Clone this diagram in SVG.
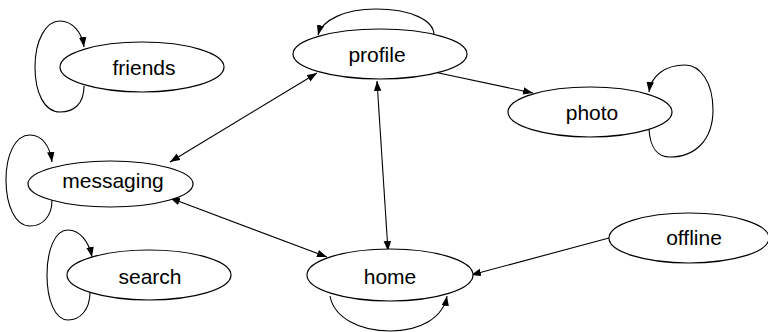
<svg xmlns="http://www.w3.org/2000/svg" width="768" height="332" viewBox="0 0 768 332">
<style>
.node ellipse{fill:#fff;stroke:#000;stroke-width:1.2}
.node text{font-family:"Liberation Sans",Arial,sans-serif;font-size:21px;text-anchor:middle;fill:#000}
.edge{fill:none;stroke:#000;stroke-width:1.1}
</style>
<defs>
<marker id="arr" markerUnits="userSpaceOnUse" markerWidth="10" markerHeight="8" refX="8" refY="3" orient="auto-start-reverse" viewBox="0 0 8 6">
<path d="M0,0 L8,3 L0,6 z" fill="#000"/>
</marker>
</defs>
<g id="connectors">
<path class="edge" d="M84,86 C84,104 74,112 60,112 C44,112 35,92 35,67 C35,40 46,21 60,21 C72,21 82,32 84,47" marker-end="url(#arr)"/>
<path class="edge" d="M434,35 C434,20 410,9 376,9 C345,9 322,20 318,35" marker-end="url(#arr)"/>
<path class="edge" d="M649,129 C650,148 658,157 670,157 C695,157 713,140 713,110 C713,82 700,65 685,65 C665,65 651,76 649,92" marker-end="url(#arr)"/>
<path class="edge" d="M52,200 C52,216 43,226 30,226 C15,226 6,205 6,180 C6,155 15,135 30,135 C42,135 50,146 52,162" marker-end="url(#arr)"/>
<path class="edge" d="M90,292 C90,310 80,320 68,320 C55,320 47,300 47,275 C47,250 55,230 68,230 C80,230 89,242 92,257" marker-end="url(#arr)"/>
<path class="edge" d="M330,296 C334,318 360,331 390,331 C420,331 443,318 447,296" marker-end="url(#arr)"/>
<path class="edge" d="M170,162 L317,73" marker-start="url(#arr)" marker-end="url(#arr)"/>
<path class="edge" d="M170,198 L327,257" marker-start="url(#arr)" marker-end="url(#arr)"/>
<path class="edge" d="M377,81 L388,251" marker-start="url(#arr)" marker-end="url(#arr)"/>
<path class="edge" d="M434,72 L533,93" marker-end="url(#arr)"/>
<path class="edge" d="M609,238 L471,275" marker-end="url(#arr)"/>
</g>
<g id="friends" class="node"><ellipse cx="142" cy="67" rx="82" ry="25"/><text x="144" y="75">friends</text></g>
<g id="profile" class="node"><ellipse cx="380" cy="54" rx="87" ry="25"/><text x="377" y="62">profile</text></g>
<g id="photo" class="node"><ellipse cx="590" cy="112" rx="82" ry="25"/><text x="592" y="120">photo</text></g>
<g id="messaging" class="node"><ellipse cx="110.5" cy="184" rx="82.5" ry="23"/><text x="113" y="188">messaging</text></g>
<g id="search" class="node"><ellipse cx="149" cy="275" rx="82" ry="25"/><text x="150" y="284">search</text></g>
<g id="home" class="node"><ellipse cx="390" cy="275" rx="83" ry="26"/><text x="390" y="284">home</text></g>
<g id="offline" class="node"><ellipse cx="689" cy="238" rx="80" ry="25"/><text x="694" y="245">offline</text></g>
</svg>
